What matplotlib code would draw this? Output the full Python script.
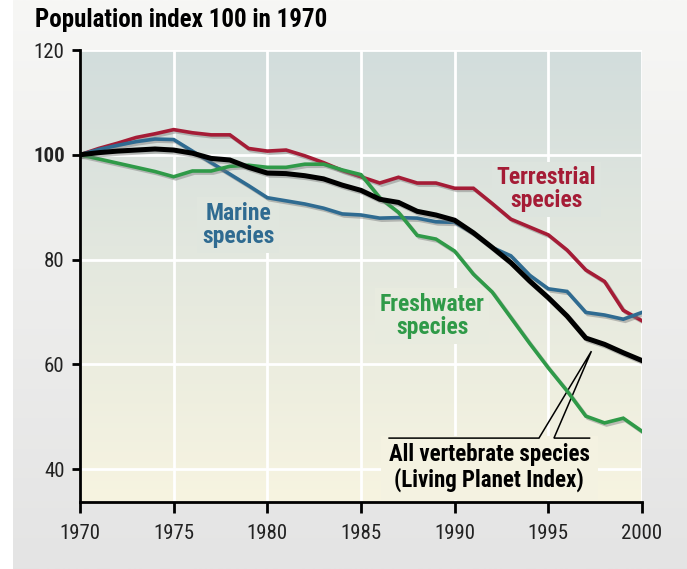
import numpy as np
import matplotlib
matplotlib.use("Agg")
import matplotlib.pyplot as plt
import matplotlib.patheffects as pe
from matplotlib.colors import to_rgb

years = list(range(1970, 2001))
terrestrial = [100, 101.2, 102.2, 103.3, 104.0, 104.8, 104.2, 103.8, 103.8, 101.2, 100.7,
               100.9, 99.8, 98.5, 97.0, 95.8, 94.6, 95.7, 94.6, 94.6, 93.6,
               93.6, 90.7, 87.7, 86.2, 84.7, 81.8, 78.0, 75.8, 70.3, 68.3]
marine = [100, 101.0, 101.8, 102.5, 103.0, 102.9, 100.7, 98.5, 96.3, 94.1, 91.8,
          91.2, 90.6, 89.8, 88.7, 88.5, 87.9, 88.0, 87.9, 87.2, 87.1,
          85.0, 82.3, 80.7, 77.0, 74.4, 73.9, 69.9, 69.4, 68.6, 69.9]
freshwater = [100, 99.2, 98.4, 97.6, 96.8, 95.8, 96.9, 96.9, 97.8, 98.0, 97.6,
              97.6, 98.2, 98.2, 97.1, 96.2, 91.8, 89.0, 84.6, 83.9, 81.6,
              77.2, 73.8, 68.9, 64.0, 59.3, 54.9, 50.1, 48.8, 49.7, 47.2]
all_species = [100, 100.4, 100.7, 100.9, 101.1, 100.9, 100.3, 99.3, 99.0, 97.6, 96.5,
               96.4, 96.0, 95.4, 94.2, 93.2, 91.5, 90.9, 89.2, 88.5, 87.5,
               85.1, 82.3, 79.4, 75.9, 72.7, 69.2, 65.0, 63.8, 62.2, 60.7]

xticks = [1970, 1975, 1980, 1985, 1990, 1995, 2000]
yticks = [40, 60, 80, 100, 120]
title = "Population index 100 in 1970"

FONT = ['Roboto Condensed', 'DejaVu Sans']
plt.rcParams['font.family'] = FONT

C_TER = '#a51c36'
C_MAR = '#2f6b91'
C_FRE = '#2f9a48'
C_ALL = '#000000'

W, H = 687, 569
fig = plt.figure(figsize=(W / 100, H / 100), dpi=100)
fig.patch.set_facecolor('white')

# figure background gradient panel
bg = fig.add_axes([13 / W, 0, 1 - 13 / W, 1], zorder=-10)
top_c = np.array(to_rgb('#f7f7f5'))
bot_c = np.array(to_rgb('#e4e4e4'))
t = np.linspace(0, 1, 256)[:, None]
grad = top_c[None, None, :] * (1 - t[..., None]) + bot_c[None, None, :] * t[..., None]
bg.imshow(grad, aspect='auto', extent=[0, 1, 0, 1], origin='upper')
bg.axis('off')

ymin, ymax = 33.7, 120
ax = fig.add_axes([80 / W, 1 - 502 / H, (642 - 80) / W, (502 - 50) / H])
ax.set_xlim(1970, 2000)
ax.set_ylim(ymin, ymax)

ptop = np.array(to_rgb('#d2dddc'))
pbot = np.array(to_rgb('#f7f4e1'))
g2 = ptop[None, None, :] * (1 - t[..., None]) + pbot[None, None, :] * t[..., None]
ax.imshow(g2, aspect='auto', extent=[1970, 2000, ymin, ymax], origin='upper', zorder=0)


def bgcolor(y):
    f = (ymax - y) / (ymax - ymin)
    return tuple(ptop * (1 - f) + pbot * f)


ax.set_xticks(xticks)
ax.set_yticks(yticks)
ax.grid(True, color='white', lw=2)
for gl in ax.get_xgridlines() + ax.get_ygridlines():
    gl.set_zorder(0.5)

for s in ['top', 'right']:
    ax.spines[s].set_visible(False)
for s in ['left', 'bottom']:
    ax.spines[s].set_linewidth(2)
    ax.spines[s].set_zorder(5)
ax.tick_params(axis='y', length=6, width=2, pad=5, labelsize=15, labelcolor='#222222')
ax.tick_params(axis='x', length=8, width=2, pad=8, labelsize=15, labelcolor='#222222')
for lab in ax.get_yticklabels():
    if lab.get_text() == '100':
        lab.set_fontweight('bold')

shadow = [pe.SimpleLineShadow(offset=(1.5, -1.5), shadow_color='#7a7a7a', alpha=0.45), pe.Normal()]
ax.plot(years, terrestrial, color=C_TER, lw=2.6, zorder=3, path_effects=shadow, solid_joinstyle='miter')
ax.plot(years, marine, color=C_MAR, lw=2.6, zorder=3, path_effects=shadow, solid_joinstyle='miter')
ax.plot(years, freshwater, color=C_FRE, lw=2.6, zorder=3, path_effects=shadow, solid_joinstyle='miter')
ax.plot(years, all_species, color=C_ALL, lw=3.6, zorder=4, path_effects=shadow, solid_joinstyle='miter')

lab_kw = dict(ha='center', va='center', fontsize=17, fontweight='bold', linespacing=1.0, zorder=2)
ax.text(1978.45, 86.6, "Marine\nspecies", color=C_MAR,
        bbox=dict(boxstyle='square,pad=0.2', fc=bgcolor(86.6), ec='none'), **lab_kw)
ax.text(1994.9, 93.4, "Terrestrial\nspecies", color=C_TER,
        bbox=dict(boxstyle='square,pad=0.2', fc=bgcolor(93.4), ec='none'), **lab_kw)
ax.text(1988.8, 69.2, "Freshwater\nspecies", color=C_FRE,
        bbox=dict(boxstyle='square,pad=0.2', fc=bgcolor(69.2), ec='none'), **lab_kw)
ax.text(1991.85, 40.3, "All vertebrate species\n(Living Planet Index)", color='black',
        ha='center', va='center', fontsize=16.5, fontweight='bold', linespacing=1.05, zorder=2,
        bbox=dict(boxstyle='square,pad=0.35', fc=bgcolor(40.3), ec='none'))

# leader lines
lx = [1986.5, 1994.5, 1997.3, 1995.3, 1997.2]
ly = [45.9, 45.9, 62.5, 45.9, 45.9]
ax.plot(lx, ly, color='black', lw=1.1, zorder=2.5, solid_joinstyle='miter')

fig.text(35 / W, 1 - 20 / H, title, fontsize=18, fontweight='bold', ha='left', va='center')

fig.savefig('out.png', dpi=100, facecolor=fig.get_facecolor())
